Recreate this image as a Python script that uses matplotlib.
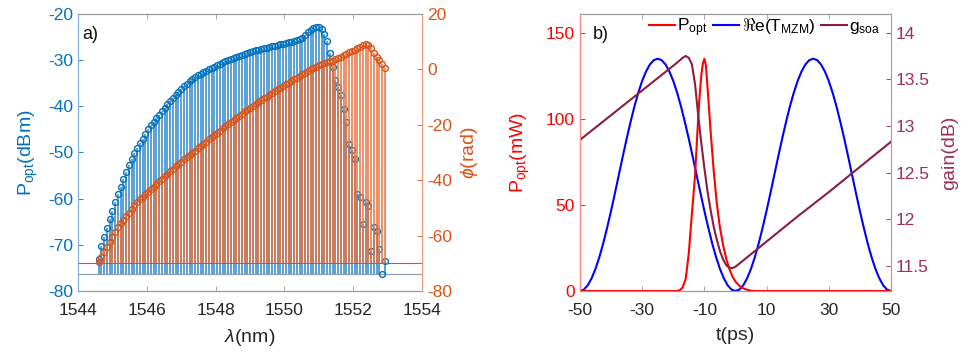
import numpy as np
import matplotlib
matplotlib.use("Agg")
import matplotlib.pyplot as plt

plt.rcParams['font.family'] = ['Liberation Sans', 'DejaVu Sans']
plt.rcParams['mathtext.fontset'] = 'custom'
plt.rcParams['mathtext.rm'] = 'Liberation Sans'
plt.rcParams['mathtext.it'] = 'Liberation Sans:italic'
plt.rcParams['mathtext.bf'] = 'Liberation Sans:bold'
plt.rcParams['axes.unicode_minus'] = False

# ---- panel a: comb lines, 0.08 nm grid starting at 1544.60 nm
lam_start, lam_step = 1544.60, 0.08
p_dbm = [-73.0, -70.3, -68.3, -66.3, -64.4, -62.6, -60.8, -59.0, -57.4, -55.8,
         -54.2, -52.7, -51.4, -50.2, -49.1, -48.0, -47.0, -45.9, -44.9, -44.1,
         -43.3, -42.5, -41.8, -41.0, -40.3, -39.6, -38.9, -38.2, -37.5, -36.8,
         -36.2, -35.6, -35.1, -34.6, -34.1, -33.7, -33.3, -32.9, -32.6, -32.3,
         -32.0, -31.7, -31.4, -31.1, -30.8, -30.5, -30.2, -29.9, -29.7, -29.5,
         -29.3, -29.1, -28.9, -28.6, -28.4, -28.2, -28.0, -27.9, -27.7, -27.6,
         -27.4, -27.3, -27.1, -27.0, -26.9, -26.7, -26.6, -26.4, -26.3, -26.1,
         -26.0, -25.8, -25.6, -25.4, -25.1, -24.6, -24.0, -23.5, -23.1, -22.9,
         -22.9, -23.3, -24.3, -25.9, -28.5, -31.5, -34.2, -35.8, -37.5, -40.5,
         -43.5, -48.2, -49.5, -51.5, -59.0, -59.6, -65.5, -60.8, -61.5, -71.3,
         -66.2, -66.9, -70.8, -76.3, -73.4]
phi_rad = [-69.5, -67.6, -65.8, -64.0, -62.2, -60.5, -58.7, -56.9, -55.6, -54.3,
           -53.0, -51.7, -50.4, -49.1, -47.8, -46.9, -46.0, -45.1, -44.2, -43.3,
           -42.4, -41.4, -40.4, -39.5, -38.6, -37.7, -36.8, -35.9, -35.0, -34.1,
           -33.3, -32.5, -31.7, -30.9, -30.1, -29.3, -28.5, -27.7, -26.9, -26.1,
           -25.3, -24.5, -23.7, -22.9, -22.1, -21.3, -20.5, -19.8, -19.0, -18.2,
           -17.5, -16.7, -16.0, -15.2, -14.5, -13.8, -13.1, -12.4, -11.8, -11.1,
           -10.4, -9.8, -9.1, -8.5, -7.8, -7.2, -6.6, -6.0, -5.4, -4.8,
           -4.2, -3.6, -3.0, -2.4, -1.8, -1.2, -0.6, 0.0, 0.5, 1.0,
           1.5, 2.0, 2.3, 2.6, 2.9, 3.2, 3.6, 4.1, 4.6, 5.1,
           5.6, 6.1, 6.6, 7.1, 7.6, 8.1, 8.9, 9.3, 8.8, 7.6,
           6.0, 4.4, 3.4, 1.9, 0.6]
p_base = -76.3
phi_base = -70.0

# ---- panel b: time traces
t_mzm = [-50, -48.75, -47.5, -46.25, -45, -43.75, -42.5, -41.25, -40, -38.75,
         -37.5, -36.25, -35, -33.75, -32.5, -31.25, -30, -28.75, -27.5, -26.25,
         -25, -23.75, -22.5, -21.25, -20, -18.75, -17.5, -16.25, -15, -13.75,
         -12.5, -11.25, -10, -8.75, -7.5, -6.25, -5, -3.75, -2.5, -1.25,
         0, 1.25, 2.5, 3.75, 5, 6.25, 7.5, 8.75, 10, 11.25,
         12.5, 13.75, 15, 16.25, 17.5, 18.75, 20, 21.25, 22.5, 23.75,
         25, 26.25, 27.5, 28.75, 30, 31.25, 32.5, 33.75, 35, 36.25,
         37.5, 38.75, 40, 41.25, 42.5, 43.75, 45, 46.25, 47.5, 48.75, 50]
re_mzm = [0, 0.8, 3.3, 7.4, 12.9, 19.8, 27.8, 36.9, 46.6, 56.9,
          67.5, 78.1, 88.4, 98.1, 107.2, 115.2, 122.1, 127.6, 131.7, 134.2,
          135, 134.2, 131.7, 127.6, 122.1, 115.2, 107.2, 98.1, 88.4, 78.1,
          67.5, 56.9, 46.6, 36.9, 27.8, 19.8, 12.9, 7.4, 3.3, 0.8,
          0, 0.8, 3.3, 7.4, 12.9, 19.8, 27.8, 36.9, 46.6, 56.9,
          67.5, 78.1, 88.4, 98.1, 107.2, 115.2, 122.1, 127.6, 131.7, 134.2,
          135, 134.2, 131.7, 127.6, 122.1, 115.2, 107.2, 98.1, 88.4, 78.1,
          67.5, 56.9, 46.6, 36.9, 27.8, 19.8, 12.9, 7.4, 3.3, 0.8, 0]
t_popt = [-50, -20, -19, -18, -17, -16, -15, -14, -13, -12, -11.5, -11, -10.5, -10,
          -9.5, -9, -8.5, -8, -7, -6, -5, -4, -3, -2, -1, 0, 1, 2, 3, 4, 5, 6, 50]
p_opt = [0, 0, 0, 0.3, 2, 7, 22, 45, 67, 100, 114, 125, 132, 135,
         131, 119, 106, 93, 70, 51, 37, 27, 19, 13, 8.5, 5.5, 3.5, 2, 1.2, 0.6, 0.2, 0, 0]
t_gsoa = [-50, -30, -20, -18, -17, -16, -15, -14, -13, -12, -11, -10, -9, -8,
          -7, -6, -5, -4, -3, -2, -1, 0, 10, 20, 30, 40, 50]
g_soa = [12.85, 13.38, 13.645, 13.70, 13.73, 13.75, 13.73, 13.66, 13.45, 13.12,
         12.82, 12.55, 12.30, 12.10, 11.92, 11.78, 11.66, 11.57, 11.51, 11.48,
         11.475, 11.49, 11.76, 12.03, 12.29, 12.56, 12.83]

blue_a = '#0072BD'
orange_a = '#D95319'
red = '#FF0000'
blue_b = '#0000FF'
maroon = '#8B1E3F'
maroon_txt = '#9E2F57'
box = '#9a9a9a'
txt = '#262626'

fig = plt.figure(figsize=(9.61, 3.56), dpi=100)

# ================= panel a =================
axa = fig.add_axes([0.0812, 0.1826, 0.358, 0.7781])
axa2 = axa.twinx()
lam = lam_start + lam_step * np.arange(len(p_dbm))

axa.axhline(p_base, color='#8aa2b4', lw=0.9, zorder=1)
m, s, b = axa.stem(lam, p_dbm, bottom=p_base, basefmt=' ')
plt.setp(s, color='#2f86c8', lw=1.1)
plt.setp(m, color=blue_a, marker='o', mfc='none', ms=4.2, mew=1.0)

axa2.axhline(phi_base, color=orange_a, lw=0.8, zorder=1)
m2, s2, b2 = axa2.stem(lam, phi_rad, bottom=phi_base, basefmt=' ')
plt.setp(s2, color='#e5733f', lw=1.1)
plt.setp(m2, color=orange_a, marker='o', mfc='none', ms=4.2, mew=1.0)

axa.set_xlim(1544, 1554)
axa.set_ylim(-80, -20)
axa2.set_ylim(-80, 20)
axa.set_xticks([1544, 1546, 1548, 1550, 1552, 1554])
axa.set_yticks(np.arange(-80, -19, 10))
axa2.set_yticks(np.arange(-80, 21, 20))

axa.tick_params(axis='both', direction='in', length=3.5, width=0.6, labelsize=12.5)
axa.tick_params(axis='x', colors=box, labelcolor=txt, top=True, pad=9)
axa.tick_params(axis='y', colors=blue_a)
axa2.tick_params(axis='y', direction='in', length=3.5, width=0.6, labelsize=12.5, colors=orange_a)

for ax in (axa, axa2):
    ax.spines['top'].set_color(box)
    ax.spines['bottom'].set_color(box)
    ax.spines['left'].set_color('#7fb2dc')
    ax.spines['right'].set_color('#f0a282')
    for sp in ax.spines.values():
        sp.set_linewidth(0.8)

axa.set_xlabel(r'$\lambda$(nm)', fontsize=14, color=txt, labelpad=6)
axa.set_ylabel(r'P$_{\rm opt}$(dBm)', fontsize=14, color=blue_a, labelpad=6)
axa2.set_ylabel(r'$\phi$(rad)', fontsize=14, color=orange_a, labelpad=5)
axa.text(0.012, 0.955, 'a)', transform=axa.transAxes, fontsize=13,
         color='#111111', va='top', ha='left')

# ================= panel b =================
axb = fig.add_axes([0.6035, 0.1826, 0.3236, 0.7781])
axb2 = axb.twinx()

l2, = axb.plot(t_mzm, re_mzm, color=blue_b, lw=1.5)
l1, = axb.plot(t_popt, p_opt, color=red, lw=1.5)
l3, = axb2.plot(t_gsoa, g_soa, color=maroon, lw=1.5)

axb.set_xlim(-50, 50)
axb.set_ylim(0, 161)
axb2.set_ylim(11.23, 14.2)
axb.set_xticks([-50, -30, -10, 10, 30, 50])
axb.set_yticks([0, 50, 100, 150])
axb2.set_yticks([11.5, 12, 12.5, 13, 13.5, 14])
axb2.set_yticklabels(['11.5', '12', '12.5', '13', '13.5', '14'])

axb.tick_params(axis='both', direction='in', length=3.5, width=0.6, labelsize=12.5)
axb.tick_params(axis='x', colors=box, labelcolor=txt, top=True, pad=9)
axb.tick_params(axis='y', colors=red)
axb2.tick_params(axis='y', direction='in', length=3.5, width=0.6, labelsize=12.5,
                 colors=maroon_txt)

for ax in (axb, axb2):
    ax.spines['top'].set_color(box)
    ax.spines['bottom'].set_color(box)
    ax.spines['left'].set_color('#ff8080')
    ax.spines['right'].set_color('#d58fa6')
    for sp in ax.spines.values():
        sp.set_linewidth(0.8)

axb.set_xlabel('t(ps)', fontsize=14, color=txt, labelpad=6)
axb.set_ylabel(r'P$_{\rm opt}$(mW)', fontsize=14, color=red, labelpad=10)
axb2.set_ylabel('gain(dB)', fontsize=14, color=maroon_txt, labelpad=8)
axb2.text(0.04, 0.955, 'b)', transform=axb.transAxes, fontsize=13,
          color='#111111', va='top', ha='left')

leg = axb2.legend([l1, l2, l3],
                  [r'P$_{\rm opt}$', r'$\Re$e(T$_{\rm MZM}$)', r'g$_{\rm soa}$'],
                  loc='upper right', bbox_to_anchor=(1.0, 1.03), ncol=3,
                  frameon=False, fontsize=12.5, handlelength=1.5,
                  handletextpad=0.15, columnspacing=0.3, borderaxespad=0.2)

fig.savefig('out.png', dpi=100)
